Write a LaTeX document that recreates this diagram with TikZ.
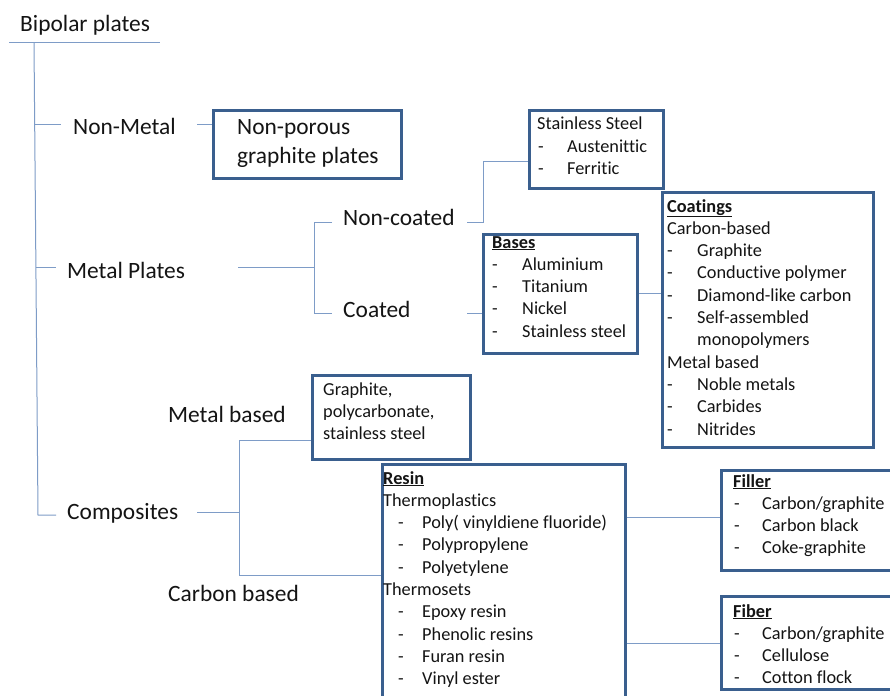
\documentclass[tikz,border=0pt]{standalone}
\usepackage{fontspec}
\setmainfont{Carlito}[Ligatures=NoCommon]
\usetikzlibrary{calc}
\definecolor{boxblue}{HTML}{3A5F8E}
\definecolor{linkblue}{HTML}{7E9CC7}
\definecolor{ink}{HTML}{141414}
\newlength\dashind
\newlength\dashw
\newcommand\itm[1]{\hspace*{\dashind}\makebox[\dashw][l]{-}#1}
\newcommand\itmcont[1]{\hspace*{\dashind}\hspace*{\dashw}#1}
\newcommand\hd[1]{\underline{\textbf{#1}}}
\begin{document}
\begin{tikzpicture}[x=1pt,y=-1pt,
  box/.style={draw=boxblue, line width=2.7pt, rectangle, inner sep=0pt, anchor=north west},
  link/.style={draw=linkblue, line width=1pt},
  big/.style={anchor=base west, inner sep=0pt, text=ink, font=\fontsize{23.4}{28.5}\selectfont},
  small/.style={anchor=base west, inner sep=0pt, text=ink, font=\fontsize{18.3}{22.3}\selectfont}]
\useasboundingbox (0,0) rectangle (890,695);
\fill[white] (0,0) rectangle (890,695);
\clip (0,0) rectangle (890,695);

% ---- boxes
\node[box, minimum width=188pt, minimum height=68pt]  (np)     at (212,109) {};
\node[box, minimum width=134pt, minimum height=78pt]  (ss)     at (528,109) {};
\node[box, minimum width=154pt, minimum height=119pt] (bases)  at (482,233) {};
\node[box, minimum width=211pt, minimum height=255pt] (coat)   at (661,191) {};
\node[box, minimum width=158pt, minimum height=84pt]  (mbbox)  at (311,374) {};
\node[box, minimum width=243pt, minimum height=260pt] (resin)  at (381,463) {};
\node[box, minimum width=190pt, minimum height=100pt] (filler) at (720,469) {};
\node[box, minimum width=190pt, minimum height=93pt]  (fiber)  at (720,595) {};

% ---- labels
\node[big] (bp)        at (20,32)   {Bipolar plates};
\node[big] (nonmetal)  at (73,135)  {Non-Metal};
\node[big] (metal)     at (67,278)  {Metal Plates};
\node[big] (comp)      at (67,519)  {Composites};
\node[big] (noncoated) at (343,225) {Non-coated};
\node[big] (coated)    at (343,317) {Coated};
\node[big] (mb)        at (168,422) {Metal based};
\node[big] (cb)        at (168,601) {Carbon based};

% ---- box texts
\node[big] (npT) at (237,135) {\parbox[t]{200pt}{Non-porous\\graphite plates}};
\setlength\dashind{1pt}\setlength\dashw{29pt}
\node[small] (ssT) at (537,130) {\parbox[t]{200pt}{Stainless Steel\\ \itm{Austenittic}\\ \itm{Ferritic}}};
\setlength\dashind{0pt}\setlength\dashw{30pt}
\node[small] (basesT) at (492,248) {\parbox[t]{200pt}{\hd{Bases}\\ \itm{Aluminium}\\ \itm{Titanium}\\ \itm{Nickel}\\ \itm{Stainless steel}}};
\node[small] (coatT) at (667,212) {\parbox[t]{220pt}{\hd{Coatings}\\ Carbon-based\\ \itm{Graphite}\\ \itm{Conductive polymer}\\ \itm{Diamond-like carbon}\\ \itm{Self-assembled}\\ \itmcont{monopolymers}\\ Metal based\\ \itm{Noble metals}\\ \itm{Carbides}\\ \itm{Nitrides}}};
\node[small] (mbT) at (323,395) {\parbox[t]{200pt}{Graphite,\\ polycarbonate,\\ stainless steel}};
\setlength\dashind{15pt}\setlength\dashw{24pt}
\node[small] (resinT) at (383,484) {\parbox[t]{260pt}{\hd{Resin}\\ Thermoplastics\\ \itm{Poly( vinyldiene fluoride)}\\ \itm{Polypropylene}\\ \itm{Polyetylene}\\ Thermosets\\ \itm{Epoxy resin}\\ \itm{Phenolic resins}\\ \itm{Furan resin}\\ \itm{Vinyl ester}}};
\setlength\dashind{1pt}\setlength\dashw{28pt}
\node[small] (fillerT) at (733,487) {\parbox[t]{200pt}{\hd{Filler}\\ \itm{Carbon/graphite}\\ \itm{Carbon black}\\ \itm{Coke-graphite}}};
\node[small] (fiberT) at (733,617) {\parbox[t]{200pt}{\hd{Fiber}\\ \itm{Carbon/graphite}\\ \itm{Cellulose}\\ \itm{Cotton flock}}};

% ---- connector coordinates
\coordinate (ulL) at (9,43);
\coordinate (ulR) at (160,43);
\coordinate (trTop) at (34,43);
\coordinate (trNM) at (35,125);
\coordinate (trMP) at (36,267);
\coordinate (trBot) at (38,515);
\coordinate (nmL) at (61,125);
\coordinate (mpL) at (56,267);
\coordinate (cpL) at (56,515);
\coordinate (nmR) at (197,125);
\coordinate (mpR) at (238,267);
\coordinate (brTop) at (314,222);
\coordinate (brMid) at (314,267);
\coordinate (brBot) at (314,313);
\coordinate (ncL) at (332,222);
\coordinate (coL) at (332,313);
\coordinate (ncR) at (467,222);
\coordinate (ncBend) at (483,222);
\coordinate (ssIn) at (483,162);
\coordinate (coR) at (467,313);
\coordinate (cpR) at (197,512);
\coordinate (cmTop) at (239,440);
\coordinate (cmMid) at (239,512);
\coordinate (cmBot) at (239,575);
\coordinate (flY) at (0,517);
\coordinate (fbY) at (0,643);

% ---- connectors
\draw[link] (ulL) -- (ulR);
\draw[link] (trTop) -- (trBot) -- (cpL);
\draw[link] (trNM) -- (nmL);
\draw[link] (trMP) -- (mpL);
\draw[link] (nmR) -- (nmR -| np.west);
\draw[link] (mpR) -- (brMid);
\draw[link] (ncL) -- (brTop) -- (brBot) -- (coL);
\draw[link] (ncR) -- (ncBend) -- (ssIn) -- (ssIn -| ss.west);
\draw[link] (coR) -- (coR -| bases.west);
\draw[link] (bases.east) -- (bases.east -| coat.west);
\draw[link] (cpR) -- (cmMid);
\draw[link] (mbbox.west |- cmTop) -- (cmTop) -- (cmBot) -- (cmBot -| resin.west);
\draw[link] (resin.east |- flY) -- (filler.west |- flY);
\draw[link] (resin.east |- fbY) -- (fiber.west |- fbY);
\end{tikzpicture}
\end{document}
